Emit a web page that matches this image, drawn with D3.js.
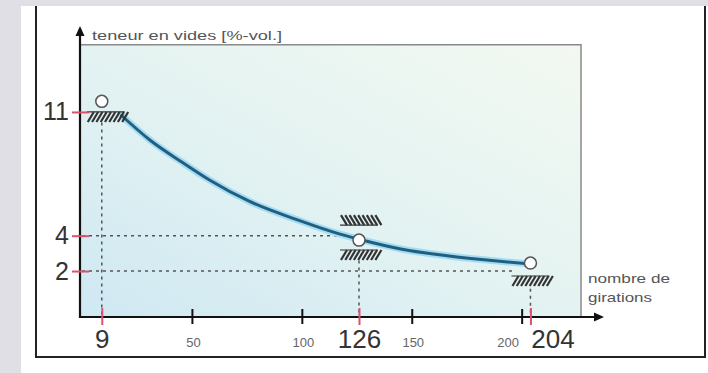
<!DOCTYPE html>
<html lang="fr">
<head>
<meta charset="UTF-8">
<title>Teneur en vides</title>
<script src="https://d3js.org/d3.v7.min.js"></script>
<style>
  html, body { margin: 0; padding: 0; background: #dfdfe5; }
  svg { display: block; font-family: "Liberation Sans", Arial, sans-serif; }
</style>
</head>
<body>
<svg id="chart" width="708" height="373"></svg>
<script>
// curve: void content vs number of gyrations
const gyrations = [18, 31, 45, 58, 76, 99, 117, 126, 145, 167, 190, 204];
const voids     = [10.8, 9.4, 8.2, 7.15, 5.95, 4.85, 4.1, 3.8, 3.25, 2.85, 2.55, 2.4];

// open circles
const pointGyr  = [9, 126, 204];
const pointVoid = [11.6, 3.75, 2.45];

// hatched limits
const limitGyr  = [9, 126, 126, 204];
const limitVoid = [11, 4.6, 3.19, 1.72];
const limitSide = ["below", "above", "below", "below"];

// tick labels
const refVoid   = [11, 4, 2];
const refGyr    = [9, 126, 204];
const smallGyr  = [50, 100, 150, 200];

const svg = d3.select("#chart");
const W = 708, H = 373;

const x = d3.scaleLinear().domain([0, 237]).range([82, 603]);
const y = d3.scaleLinear().domain([-0.6, 15.75]).range([317, 28]);

// page panel
svg.append("rect").attr("x", 21).attr("y", 6).attr("width", W - 21).attr("height", H - 6).attr("fill", "#ffffff");
svg.append("path")
    .attr("d", "M36,6 V357 H705 V6")
    .attr("fill", "none").attr("stroke", "#222").attr("stroke-width", 2);

// gradient background
const defs = svg.append("defs");
const grad = defs.append("linearGradient").attr("id", "bg")
    .attr("x1", 0).attr("y1", 1).attr("x2", 1).attr("y2", 0);
grad.append("stop").attr("offset", 0).attr("stop-color", "#cfe8f3");
grad.append("stop").attr("offset", 0.45).attr("stop-color", "#e2f2f2");
grad.append("stop").attr("offset", 1).attr("stop-color", "#f3f9f1");

const rx0 = x(0) - 2, rx1 = x(227), ry0 = y(14.8), ry1 = y(-0.6);
svg.append("rect")
    .attr("x", rx0).attr("y", ry0).attr("width", rx1 - rx0).attr("height", ry1 - ry0)
    .attr("fill", "url(#bg)");
svg.append("path")
    .attr("d", `M${rx0},${ry0} H${rx1} V${ry1}`)
    .attr("fill", "none").attr("stroke", "#8a8a8a").attr("stroke-width", 1.5);

// dotted guide lines
const dots = svg.append("g").attr("stroke", "#555").attr("stroke-width", 1.5)
    .attr("stroke-dasharray", "3,4").attr("fill", "none");
dots.append("line").attr("x1", x(9)).attr("x2", x(9)).attr("y1", y(10.4)).attr("y2", y(-0.6));
dots.append("line").attr("x1", x(0)).attr("x2", x(121)).attr("y1", y(4)).attr("y2", y(4));
dots.append("line").attr("x1", x(0)).attr("x2", x(196)).attr("y1", y(2)).attr("y2", y(2));
dots.append("line").attr("x1", x(126)).attr("x2", x(126)).attr("y1", y(2.6)).attr("y2", y(-0.6));
dots.append("line").attr("x1", x(204)).attr("x2", x(204)).attr("y1", y(1.0)).attr("y2", y(-0.6));

// curve
const line = d3.line()
    .x((d, i) => x(gyrations[i]))
    .y((d, i) => y(voids[i]))
    .curve(d3.curveMonotoneX);
svg.append("path").datum(voids).attr("d", line)
    .attr("fill", "none").attr("stroke", "#a6dcf2").attr("stroke-width", 7).attr("stroke-linecap", "round");
svg.append("path").datum(voids).attr("d", line)
    .attr("fill", "none").attr("stroke", "#215f80").attr("stroke-width", 3).attr("stroke-linecap", "round");

// hatched limits
limitGyr.forEach((g, i) => {
  const cx = x(g) + (i === 0 ? 4 : 0);
  const ly = y(limitVoid[i]);
  const dir = limitSide[i] === "below" ? 1 : -1;
  const h = 10, w = 38;
  const grp = svg.append("g").attr("stroke", "#333").attr("fill", "none");
  grp.append("line").attr("x1", cx - w / 2).attr("x2", cx + w / 2)
      .attr("y1", ly).attr("y2", ly).attr("stroke-width", 1.2);
  d3.range(9).forEach(k => {
    const bx = cx - w / 2 + 1 + k * 4.3;
    grp.append("line")
        .attr("x1", bx).attr("y1", ly + dir * h)
        .attr("x2", bx + 6).attr("y2", ly)
        .attr("stroke-width", 2.2);
  });
});

// open circles
svg.append("g").selectAll("circle")
  .data(pointGyr).join("circle")
    .attr("cx", d => x(d)).attr("cy", (d, i) => y(pointVoid[i])).attr("r", 6)
    .attr("fill", "#fff").attr("stroke", "#555").attr("stroke-width", 1.5);

// axes lines with arrows
svg.append("line").attr("x1", x(0) - 2).attr("x2", x(0) - 2).attr("y1", y(-0.6) + 1).attr("y2", 34)
    .attr("stroke", "#111").attr("stroke-width", 2.2);
svg.append("path").attr("d", `M${x(0) - 2},26 l-4.5,10 h9 z`).attr("fill", "#111");
svg.append("line").attr("x1", x(0) - 3).attr("x2", 596).attr("y1", y(-0.6)).attr("y2", y(-0.6))
    .attr("stroke", "#111").attr("stroke-width", 2.2);
svg.append("path").attr("d", `M604,${y(-0.6)} l-10,-4.5 v9 z`).attr("fill", "#111");

// small black x ticks
const xSmall = svg.append("g").attr("transform", `translate(0,${y(-0.6)})`)
    .call(d3.axisBottom(x).tickValues(smallGyr).tickSize(8).tickPadding(13));
xSmall.select(".domain").remove();
xSmall.selectAll(".tick line").attr("y1", -8).attr("y2", 7).attr("stroke", "#111").attr("stroke-width", 2);
xSmall.selectAll(".tick text")
    .attr("font-size", 13).attr("fill", "#666").attr("font-family", "Liberation Sans, Arial, sans-serif")
    .attr("dx", d => d === 200 ? -14 : 1);

// red x ticks with big labels
const xRef = svg.append("g").attr("transform", `translate(0,${y(-0.6)})`)
    .call(d3.axisBottom(x).tickValues(refGyr).tickSize(8).tickPadding(5));
xRef.select(".domain").remove();
xRef.selectAll(".tick line").attr("y1", -9).attr("y2", 8).attr("stroke", "#d9536f").attr("stroke-width", 2);
xRef.selectAll(".tick text")
    .attr("font-size", 26).attr("fill", "#333").attr("font-family", "Liberation Sans, Arial, sans-serif")
    .attr("dx", d => d === 204 ? 22 : 0);

// red y ticks with big labels
const yRef = svg.append("g").attr("transform", `translate(${x(0) - 2},0)`)
    .call(d3.axisLeft(y).tickValues(refVoid).tickSize(8).tickPadding(3));
yRef.select(".domain").remove();
yRef.selectAll(".tick line").attr("x1", -8).attr("x2", 9).attr("stroke", "#d9536f").attr("stroke-width", 2);
yRef.selectAll(".tick text")
    .attr("font-size", 25).attr("fill", "#333").attr("font-family", "Liberation Sans, Arial, sans-serif");

// axis titles
svg.append("text").attr("x", 92).attr("y", 40)
    .attr("font-size", 13).attr("fill", "#555")
    .attr("textLength", 190).attr("lengthAdjust", "spacingAndGlyphs")
    .text("teneur en vides [%-vol.]");
const xt = svg.append("text").attr("x", 588).attr("y", 283).attr("font-size", 13).attr("fill", "#555");
xt.append("tspan").attr("x", 588).attr("textLength", 82).attr("lengthAdjust", "spacingAndGlyphs").text("nombre de");
xt.append("tspan").attr("x", 588).attr("dy", 19).attr("textLength", 64).attr("lengthAdjust", "spacingAndGlyphs").text("girations");
</script>
</body>
</html>
